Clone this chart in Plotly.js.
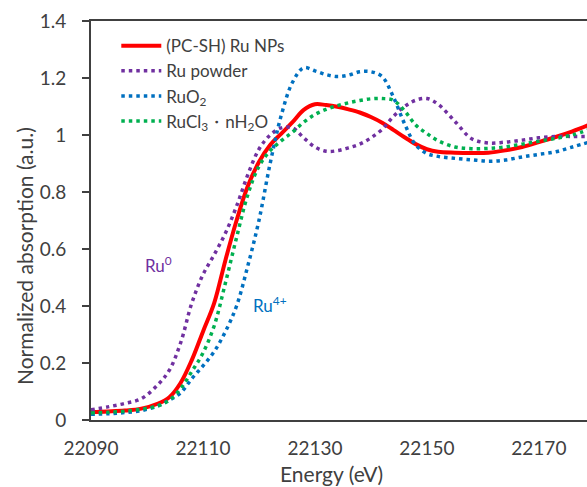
<!DOCTYPE html>
<html>
<head>
<meta charset="utf-8">
<script src="https://cdn.plot.ly/plotly-3.0.1.min.js"></script>
<style>html,body{margin:0;padding:0;background:#fff;}#chart{width:587px;height:487px;}</style>
</head>
<body>
<div id="chart"></div>
<script>
const energy = [22090,22093,22096,22099,22102,22104,22106,22108,22110,22112,22114,22116,22118,22120,22122,22124,22126,22128,22130,22132,22134,22136,22138,22140,22142,22144,22146,22148,22150,22152,22155,22158,22161,22164,22167,22170,22173,22176,22179];

const ruNPs = [0.028,0.030,0.033,0.040,0.058,0.080,0.130,0.210,0.310,0.410,0.560,0.700,0.820,0.905,0.965,1.005,1.045,1.088,1.108,1.105,1.099,1.090,1.079,1.063,1.043,1.018,0.992,0.968,0.950,0.941,0.938,0.937,0.938,0.946,0.958,0.975,0.993,1.013,1.036];

const ruPowder = [0.036,0.046,0.058,0.075,0.125,0.175,0.270,0.410,0.510,0.580,0.655,0.750,0.860,0.950,1.000,1.025,1.025,0.990,0.958,0.943,0.945,0.955,0.968,0.990,1.020,1.065,1.100,1.122,1.128,1.108,1.048,0.987,0.972,0.975,0.982,0.990,0.995,0.995,0.995];

const ruO2 = [0.020,0.022,0.026,0.033,0.050,0.070,0.095,0.145,0.190,0.240,0.310,0.400,0.540,0.700,0.900,1.070,1.185,1.236,1.225,1.212,1.205,1.210,1.222,1.222,1.205,1.134,1.040,0.965,0.935,0.925,0.918,0.913,0.908,0.912,0.923,0.932,0.941,0.958,0.975];

const ruCl3 = [0.025,0.027,0.031,0.038,0.050,0.070,0.110,0.170,0.235,0.330,0.480,0.640,0.790,0.890,0.945,0.980,1.010,1.045,1.072,1.090,1.103,1.113,1.121,1.127,1.128,1.122,1.085,1.035,1.005,0.980,0.958,0.952,0.953,0.958,0.968,0.978,0.988,1.000,1.020];

const seriesNames = ['(PC-SH) Ru NPs', 'Ru powder', 'RuO<sub>2</sub>', 'RuCl<sub>3</sub>・nH<sub>2</sub>O'];
const xTicks = [22090, 22110, 22130, 22150, 22170];
const yTicks = [0, 0.2, 0.4, 0.6, 0.8, 1, 1.2, 1.4];
const xTitle = 'Energy (eV)';
const yTitle = 'Normalized absorption (a.u.)';

const FONT = 'Lato, "Open Sans", sans-serif';
const dotted = {dash: '3.5px,4px', width: 3.5, shape: 'spline', smoothing: 1};

const traces = [
  {x: energy, y: ruNPs, name: seriesNames[0], mode: 'lines', line: {color: '#FF0000', width: 4, shape: 'spline', smoothing: 1}},
  {x: energy, y: ruPowder, name: seriesNames[1], mode: 'lines', line: Object.assign({color: '#7030A0'}, dotted)},
  {x: energy, y: ruO2, name: seriesNames[2], mode: 'lines', line: Object.assign({color: '#0070C0'}, dotted)},
  {x: energy, y: ruCl3, name: seriesNames[3], mode: 'lines', line: Object.assign({color: '#00B050'}, dotted)}
];

// plot area: left 91px, top 21px, width 496px, height 399px
const layout = {
  width: 587, height: 487,
  margin: {l: 91, r: 0, t: 21, b: 67},
  paper_bgcolor: '#fff', plot_bgcolor: '#fff',
  font: {family: FONT, color: '#404040', size: 19},
  showlegend: true,
  legend: {x: 0.051, y: 0.982, xanchor: 'left', yanchor: 'top', bgcolor: 'rgba(0,0,0,0)', itemwidth: 40, font: {size: 17, color: '#404040'}, tracegroupgap: 0},
  xaxis: {
    range: [22090, 22178.6], tickvals: xTicks, ticktext: xTicks.map(String),
    showgrid: false, zeroline: false, showline: true, linecolor: '#404040', linewidth: 2, mirror: true,
    ticks: '', ticklabelstandoff: 10
  },
  yaxis: {
    range: [0, 1.4], tickvals: yTicks, ticktext: yTicks.map(String),
    showgrid: false, zeroline: false, showline: true, linecolor: '#404040', linewidth: 2,
    ticks: 'outside', ticklen: 7, tickwidth: 2, tickcolor: '#404040', ticklabelstandoff: 12
  },
  annotations: [
    {x: (331 - 91) / 496, y: -(473 - 420) / 399, xref: 'paper', yref: 'paper', xanchor: 'center', yanchor: 'middle', text: xTitle, showarrow: false, font: {size: 21, color: '#404040'}},
    {x: (24 - 91) / 496, y: (420 - 256) / 399, xref: 'paper', yref: 'paper', xanchor: 'center', yanchor: 'middle', text: yTitle, textangle: -90, showarrow: false, font: {size: 21, color: '#404040'}},
    {x: 22102, y: 0.545, xref: 'x', yref: 'y', text: 'Ru<sup>0</sup>', showarrow: false, font: {size: 17, color: '#7030A0'}},
    {x: 22122.0, y: 0.405, xref: 'x', yref: 'y', text: 'Ru<sup>4+</sup>', showarrow: false, font: {size: 17, color: '#0070C0'}}
  ]
};

Plotly.newPlot('chart', traces, layout, {displayModeBar: false, staticPlot: true});
</script>
</body>
</html>
